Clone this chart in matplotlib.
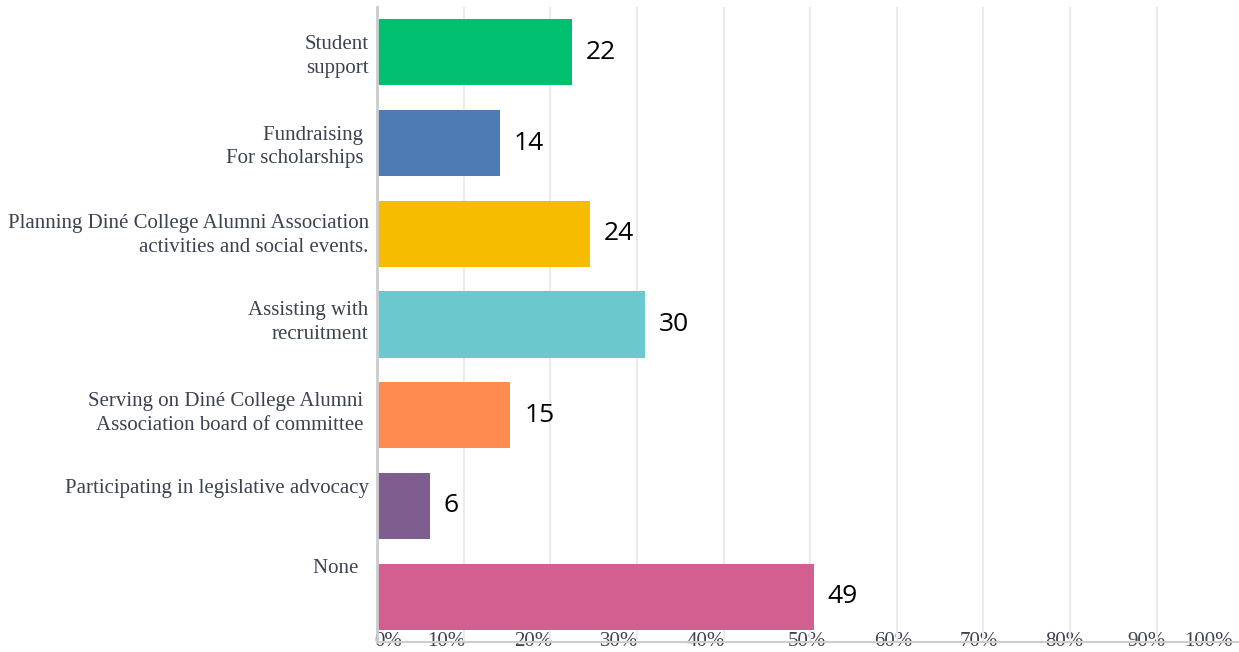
import matplotlib
matplotlib.use("Agg")
import matplotlib.pyplot as plt
import matplotlib.transforms as mtransforms
import numpy as np

categories = [
    "Student\nsupport",
    "Fundraising \nFor scholarships ",
    "Planning Diné College Alumni Association\nactivities and social events.",
    "Assisting with\nrecruitment",
    "Serving on Diné College Alumni \nAssociation board of committee ",
    "Participating in legislative advocacy",
    "None  ",
]
percent_values = [22.5, 14.2, 24.6, 30.9, 15.4, 6.1, 50.4]
count_labels = ["22", "14", "24", "30", "15", "6", "49"]
colors = ["#00bf6f", "#4f7bb5", "#f6bd00", "#6bc8cd", "#ff8b50", "#7e5e8f", "#d25f8f"]

grid_ticks = [0, 10, 20, 30, 40, 50, 60, 70, 80, 90]
tick_label_pos = [1.3, 8.0, 18.0, 27.9, 37.9, 49.6, 59.6, 69.5, 79.3, 88.8, 96.0]
tick_labels = ["0%", "10%", "20%", "30%", "40%", "50%", "60%", "70%", "80%", "90%", "100%"]

# vertical shift (px, upward) of each category label
label_shift_px = [1, 1, 3, 7, 7, 20, 31]

fig = plt.figure(figsize=(12.39, 6.52), dpi=100)
ax = fig.add_axes([377 / 1239, 1 - 642 / 652, 1 - 377 / 1239, (642 - 7) / 652])

y = np.arange(len(categories))
ax.barh(y, percent_values, height=0.73, color=colors, zorder=3)
for yi, v, lab in zip(y, percent_values, count_labels):
    ax.annotate(lab, (v, yi), xytext=(10, 0), textcoords="offset points",
                ha="left", va="center", fontsize=19, family="Open Sans",
                color="black", zorder=4)

ax.set_xlim(0, 99.5)
ax.set_ylim(6.5, -0.5)

ax.set_yticks(y)
ax.set_yticklabels(categories, family="Liberation Serif", fontsize=15,
                   color="#3b4350", linespacing=1.35)
ax.tick_params(axis="y", length=0, pad=6)
for lbl, sh in zip(ax.get_yticklabels(), label_shift_px):
    lbl.set_transform(lbl.get_transform() +
                      mtransforms.ScaledTranslation(0, sh / 100, fig.dpi_scale_trans))

ax.set_xticks(grid_ticks, minor=True)
ax.set_xticks(tick_label_pos)
ax.set_xticklabels(tick_labels, family="Liberation Serif", fontsize=15, color="#3b4350")
ax.tick_params(axis="x", which="both", length=0, pad=-7)
ax.grid(axis="x", which="minor", color="#ebebeb", linewidth=1.5, zorder=0)
ax.grid(axis="x", which="major", visible=False)

for s in ["top", "right"]:
    ax.spines[s].set_visible(False)
ax.spines["left"].set_color("#cccccc")
ax.spines["left"].set_linewidth(2)
ax.spines["left"].set_zorder(5)
ax.spines["bottom"].set_color("#cccccc")
ax.spines["bottom"].set_linewidth(1.5)

fig.savefig("out.png", dpi=100)
